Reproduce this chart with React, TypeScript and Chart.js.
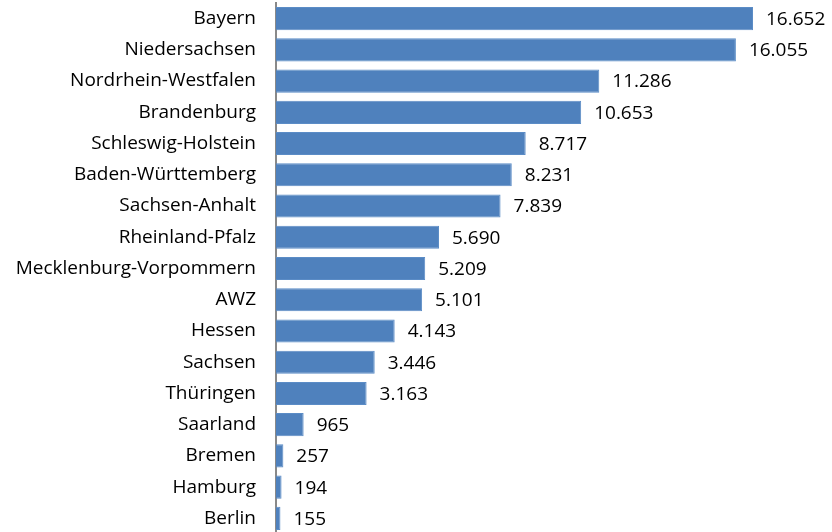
import React, { useEffect, useRef } from "react";
import { Chart, registerables } from "chart.js";

Chart.register(...registerables);

const categories = [
  "Bayern",
  "Niedersachsen",
  "Nordrhein-Westfalen",
  "Brandenburg",
  "Schleswig-Holstein",
  "Baden-Württemberg",
  "Sachsen-Anhalt",
  "Rheinland-Pfalz",
  "Mecklenburg-Vorpommern",
  "AWZ",
  "Hessen",
  "Sachsen",
  "Thüringen",
  "Saarland",
  "Bremen",
  "Hamburg",
  "Berlin",
];

const values = [16652, 16055, 11286, 10653, 8717, 8231, 7839, 5690, 5209, 5101, 4143, 3446, 3163, 965, 257, 194, 155];

const FONT = "'Open Sans', sans-serif";

const fmt = (v: number) => v.toLocaleString("de-DE");

const valueLabels = {
  id: "valueLabels",
  afterDatasetsDraw(chart: any) {
    const ctx = chart.ctx;
    const meta = chart.getDatasetMeta(0);
    ctx.save();
    ctx.font = `19px ${FONT}`;
    ctx.fillStyle = "#000";
    ctx.textAlign = "left";
    ctx.textBaseline = "middle";
    meta.data.forEach((el: any, i: number) => {
      ctx.fillText(fmt(values[i]), el.x + 13, el.y + 1);
    });
    ctx.restore();
  },
};

export default function App() {
  const ref = useRef<HTMLCanvasElement | null>(null);

  useEffect(() => {
    document.body.style.margin = "0";
    const canvas = ref.current;
    if (!canvas) return;
    const chart = new Chart(canvas, {
      type: "bar",
      data: {
        labels: categories,
        datasets: [
          {
            data: values,
            backgroundColor: "#4F81BD",
            borderColor: "#5B8CC6",
            borderWidth: 1,
            barPercentage: 0.74,
            categoryPercentage: 1,
          },
        ],
      },
      options: {
        indexAxis: "y",
        animation: false,
        responsive: false,
        maintainAspectRatio: false,
        layout: { padding: { top: 3, bottom: 3, left: 0, right: 0 } },
        plugins: {
          legend: { display: false },
          tooltip: { enabled: false },
        },
        scales: {
          x: { display: false, min: 0, max: 19410 },
          y: {
            grid: { display: false },
            border: { display: true, color: "#898989", width: 2 },
            ticks: {
              color: "#000",
              padding: 12,
              font: { family: FONT, size: 19 },
            },
            afterFit(scale: any) {
              scale.width = 276;
              scale.paddingTop = 0;
              scale.paddingBottom = 0;
            },
          },
        },
      },
      plugins: [valueLabels],
    });
    return () => chart.destroy();
  }, []);

  return (
    <div style={{ width: 832, height: 532, overflow: "hidden", position: "relative" }}>
      <canvas ref={ref} width={832} height={537} style={{ display: "block" }} />
    </div>
  );
}
